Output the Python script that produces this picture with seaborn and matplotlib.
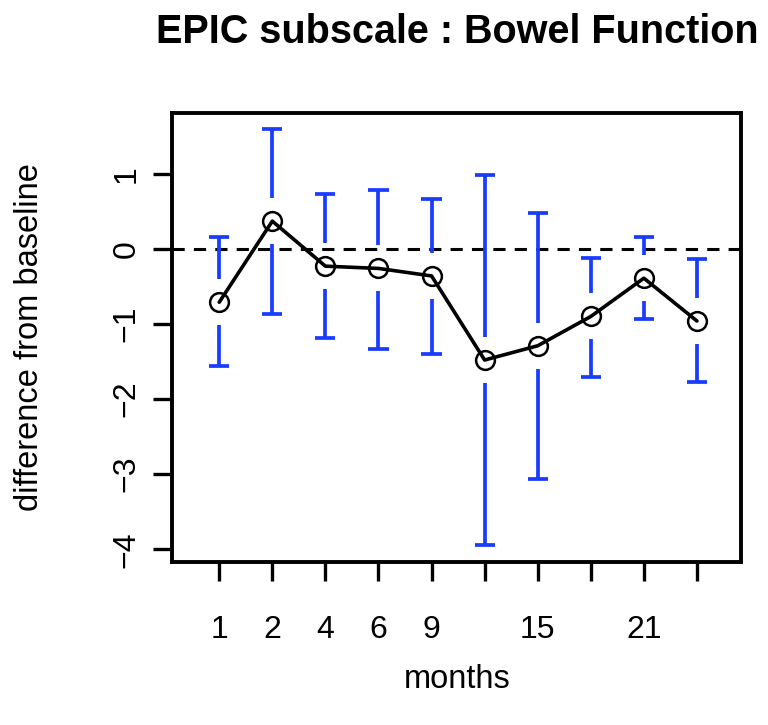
import numpy as np
import pandas as pd
import matplotlib
matplotlib.use("Agg")
import matplotlib.pyplot as plt
import seaborn as sns

# data
months = [1, 2, 4, 6, 9, 12, 15, 18, 21, 24]
tick_labels = ["1", "2", "4", "6", "9", "", "15", "", "21", ""]
mean_diff = [-0.71, 0.37, -0.23, -0.26, -0.36, -1.48, -1.29, -0.90, -0.39, -0.96]
ci_upper = [0.16, 1.60, 0.73, 0.79, 0.67, 0.98, 0.48, -0.12, 0.16, -0.14]
ci_lower = [-1.56, -0.87, -1.19, -1.33, -1.40, -3.94, -3.07, -1.70, -0.94, -1.77]

sns.set_style("ticks")
plt.rcParams["font.family"] = ["Liberation Sans", "DejaVu Sans"]
plt.rcParams.update({"text.color": "black", "axes.labelcolor": "black",
                     "xtick.color": "black", "ytick.color": "black"})

df = pd.DataFrame({
    "pos": np.arange(1, len(months) + 1),
    "month": months,
    "mean": mean_diff,
    "upper": ci_upper,
    "lower": ci_lower,
})

fig = plt.figure(figsize=(7.68, 7.25), dpi=100)
ax = fig.add_axes([172 / 768, 1 - 562 / 725, (741 - 172) / 768, (562 - 113) / 725])

ax.set_xlim(0.11, 10.83)
ax.set_ylim(-4.17, 1.81)

# y units per pixel, used for the gap round each point (gplots plotCI style)
px = (1.81 + 4.17) / (562 - 113)
gap = 23 * px

blue = "#1a3cff"
# error bars with a gap round the point
up_start = np.minimum(df["mean"] + gap, df["upper"])
low_start = np.maximum(df["mean"] - gap, df["lower"])
ax.vlines(df["pos"], up_start, df["upper"], color=blue, lw=2.7, zorder=2)
ax.vlines(df["pos"], df["lower"], low_start, color=blue, lw=2.7, zorder=2)
cap = 0.19
ax.hlines(df["upper"], df["pos"] - cap, df["pos"] + cap, color=blue, lw=2.7, zorder=2)
ax.hlines(df["lower"], df["pos"] - cap, df["pos"] + cap, color=blue, lw=2.7, zorder=2)

ax.axhline(0, color="black", lw=2.2, ls=(0, (4, 3)), zorder=1)

sns.lineplot(data=df, x="pos", y="mean", ax=ax, color="black", lw=2.6,
             marker="o", markersize=13.5, markerfacecolor="none",
             markeredgecolor="black", markeredgewidth=1.8, zorder=3)

ax.set_xticks(df["pos"])
ax.set_xticklabels(tick_labels)
ax.set_yticks([-4, -3, -2, -1, 0, 1])
ax.set_yticklabels(["\u22124", "\u22123", "\u22122", "\u22121", "0", "1"], rotation=90, va="center")

ax.tick_params(axis="both", direction="out", length=14, width=2.4, labelsize=23, color="black")
ax.tick_params(axis="x", pad=24)
ax.tick_params(axis="y", pad=8)

for s in ax.spines.values():
    s.set_linewidth(2.8)
    s.set_color("black")

ax.set_xlabel("")
ax.set_ylabel("")
fig.text(457 / 768, 1 - 680 / 725, "months", ha="center", va="center", fontsize=23.5)
fig.text(30 / 768, 1 - 337 / 725, "difference from baseline", ha="center", va="center",
         rotation=90, fontsize=23.5)
fig.text(457 / 768, 1 - 32 / 725, "EPIC subscale : Bowel Function", ha="center", va="center",
         fontsize=28.5, fontweight="bold")

fig.savefig("out.png", dpi=100)
